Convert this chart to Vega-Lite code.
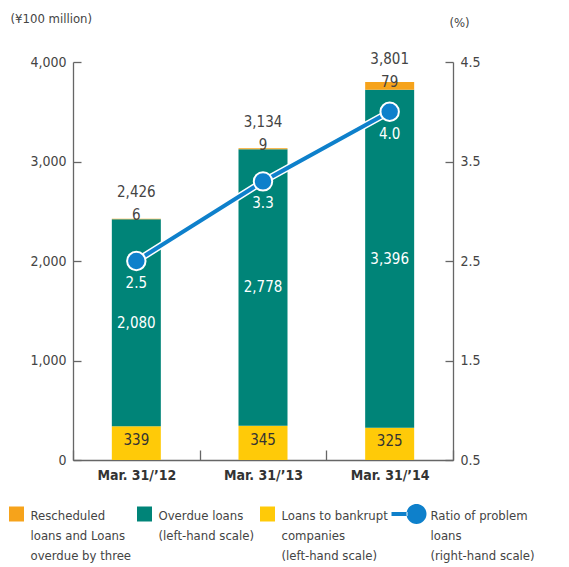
{
  "$schema": "https://vega.github.io/schema/vega-lite/v6.json",
  "width": 380,
  "height": 398,
  "autosize": {"type": "none"},
  "padding": {"left": 73, "top": 62, "right": 116, "bottom": 107},
  "background": "white",
  "config": {
    "view": {"stroke": null},
    "font": "DejaVu Sans Condensed, sans-serif",
    "axis": {
      "grid": false,
      "domainColor": "#666",
      "tickColor": "#666",
      "domainWidth": 1.3,
      "tickWidth": 1.3,
      "labelColor": "#444",
      "titleColor": "#444",
      "labelFont": "DejaVu Sans Condensed, sans-serif",
      "titleFont": "DejaVu Sans Condensed, sans-serif",
      "labelFontSize": 14,
      "titleFontSize": 13,
      "titleFontWeight": "normal"
    },
    "text": {"font": "DejaVu Sans Condensed, sans-serif"}
  },
  "datasets": {
    "bars": [
      {"period": "Mar. 31/’12", "series": "Bankrupt", "value": 339, "total": 2426},
      {"period": "Mar. 31/’12", "series": "Overdue", "value": 2080, "total": 2426},
      {"period": "Mar. 31/’12", "series": "Rescheduled", "value": 6, "total": 2426},
      {"period": "Mar. 31/’13", "series": "Bankrupt", "value": 345, "total": 3134},
      {"period": "Mar. 31/’13", "series": "Overdue", "value": 2778, "total": 3134},
      {"period": "Mar. 31/’13", "series": "Rescheduled", "value": 9, "total": 3134},
      {"period": "Mar. 31/’14", "series": "Bankrupt", "value": 325, "total": 3801},
      {"period": "Mar. 31/’14", "series": "Overdue", "value": 3396, "total": 3801},
      {"period": "Mar. 31/’14", "series": "Rescheduled", "value": 79, "total": 3801}
    ],
    "ratio": [
      {"period": "Mar. 31/’12", "ratio": 2.5},
      {"period": "Mar. 31/’13", "ratio": 3.3},
      {"period": "Mar. 31/’14", "ratio": 4.0}
    ]
  },
  "layer": [
    {
      "data": {"name": "bars"},
      "transform": [
        {"stack": "value", "groupby": ["period"], "sort": [{"field": "series", "order": "ascending"}], "as": ["v0", "v1"]},
        {"calculate": "(datum.v0 + datum.v1) / 2", "as": "mid"}
      ],
      "layer": [
        {
          "mark": {"type": "bar", "width": 49},
          "encoding": {
            "x": {
              "field": "period", "type": "nominal", "title": null,
              "scale": {"domain": ["Mar. 31/’12", "Mar. 31/’13", "Mar. 31/’14"], "paddingInner": 0, "paddingOuter": 0},
              "axis": {"title": null, "labelAngle": 0, "tickBand": "extent", "tickSize": -10, "labelPadding": 18, "labelFontWeight": "bold", "labelFontSize": 14, "labelColor": "#333"}
            },
            "y": {
              "field": "v1", "type": "quantitative", "title": "(¥100 million)",
              "scale": {"domain": [0, 4000], "nice": false},
              "axis": {"title": "(¥100 million)", "values": [0, 1000, 2000, 3000, 4000], "format": ",d", "tickSize": -8, "labelPadding": 15, "titleAngle": 0, "titleX": -63, "titleY": -44, "titleAlign": "left", "titleBaseline": "middle"}
            },
            "y2": {"field": "v0"},
            "color": {
              "field": "series", "type": "nominal",
              "scale": {"domain": ["Rescheduled", "Overdue", "Bankrupt", "Ratio"], "range": ["#F6A31B", "#008478", "#FFCA08", "#0E80CB"]},
              "legend": {
                "title": null,
                "orient": "none",
                "legendX": -66.5,
                "legendY": 442,
                "direction": "horizontal",
                "columns": 4,
                "columnPadding": 3,
                "rowPadding": 0,
                "padding": 0,
                "symbolSize": 400,
                "symbolType": "square",
                "labelOffset": 4,
                "labelFontSize": 13,
                "labelColor": "#444",
                "labelLimit": 200,
                "labelBaseline": "top",
                "labelExpr": "datum.value == 'Rescheduled' ? ['Rescheduled', 'loans and Loans', 'overdue by three'] : datum.value == 'Overdue' ? ['Overdue loans', '(left-hand scale)', ' '] : datum.value == 'Bankrupt' ? ['Loans to bankrupt', 'companies', '(left-hand scale)'] : ['Ratio of problem', 'loans', '(right-hand scale)']",
                "encode": {
                  "symbols": {"update": {
                    "shape": {"signal": "datum.value == 'Ratio' ? 'M-2.5,-0.2H-0.9V0.2H-2.5Z M-1,0A1,1,0,1,0,1,0A1,1,0,1,0,-1,0Z' : 'M-0.75,-0.75H0.75V0.75H-0.75Z'"},
                    "fill": {"signal": "scale('color', datum.value)"},
                    "strokeWidth": {"value": 0},
                    "opacity": {"value": 1}
                  }},
                  "labels": {"update": {"dy": {"value": -4}, "lineHeight": {"value": 20}}}
                }
              }
            }
          }
        },
        {
          "transform": [{"filter": "datum.series == 'Bankrupt'"}],
          "mark": {"type": "text", "fontSize": 15, "color": "#333", "baseline": "middle", "dy": -3},
          "encoding": {
            "x": {"field": "period", "type": "nominal", "title": null},
            "y": {"field": "mid", "type": "quantitative", "title": "(¥100 million)"},
            "text": {"field": "value", "type": "quantitative", "format": ","}
          }
        },
        {
          "transform": [{"filter": "datum.series == 'Overdue'"}],
          "mark": {"type": "text", "fontSize": 15, "fill": "white", "baseline": "middle"},
          "encoding": {
            "x": {"field": "period", "type": "nominal", "title": null},
            "y": {"field": "mid", "type": "quantitative", "title": "(¥100 million)"},
            "text": {"field": "value", "type": "quantitative", "format": ","}
          }
        },
        {
          "transform": [{"filter": "datum.series == 'Rescheduled'"}],
          "mark": {"type": "text", "fontSize": 15, "color": "#444", "baseline": "alphabetic", "dy": 1},
          "encoding": {
            "x": {"field": "period", "type": "nominal", "title": null},
            "y": {"field": "mid", "type": "quantitative", "title": "(¥100 million)"},
            "text": {"field": "value", "type": "quantitative", "format": ","}
          }
        },
        {
          "transform": [{"filter": "datum.series == 'Rescheduled'"}],
          "mark": {"type": "text", "fontSize": 15, "color": "#444", "baseline": "alphabetic", "dy": -22},
          "encoding": {
            "x": {"field": "period", "type": "nominal", "title": null},
            "y": {"field": "mid", "type": "quantitative", "title": "(¥100 million)"},
            "text": {"field": "total", "type": "quantitative", "format": ","}
          }
        }
      ]
    },
    {
      "data": {"name": "ratio"},
      "encoding": {
        "x": {"field": "period", "type": "nominal", "title": null},
        "y": {
          "field": "ratio", "type": "quantitative",
          "scale": {"domain": [0.5, 4.5], "nice": false, "zero": false},
          "axis": {"orient": "right", "title": "(%)", "values": [0.5, 1.5, 2.5, 3.5, 4.5], "format": ".1f", "tickSize": -8, "labelPadding": 15, "titleAngle": 0, "titleX": 6, "titleY": -40, "titleAlign": "center", "titleBaseline": "middle"}
        }
      },
      "layer": [
        {"mark": {"type": "line", "color": "white", "strokeWidth": 7}},
        {"mark": {"type": "line", "color": "#0E80CB", "strokeWidth": 4}},
        {"mark": {"type": "point", "filled": true, "size": 340, "color": "#0E80CB", "stroke": "white", "strokeWidth": 2, "opacity": 1}},
        {
          "mark": {"type": "text", "fontSize": 15, "fill": "white", "baseline": "middle", "dy": 22},
          "encoding": {"text": {"field": "ratio", "type": "quantitative", "format": ".1f"}}
        }
      ]
    }
  ],
  "resolve": {"scale": {"y": "independent"}}
}
